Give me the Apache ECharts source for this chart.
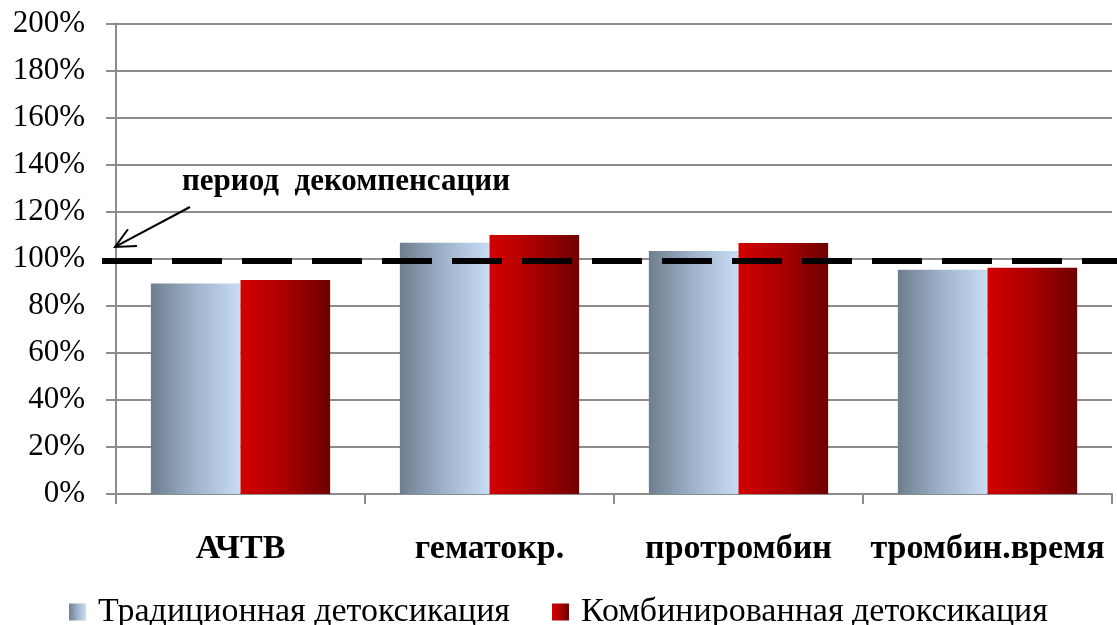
<!DOCTYPE html>
<html>
<head>
<meta charset="utf-8">
<script src="https://cdn.jsdelivr.net/npm/echarts@6/dist/echarts.min.js"></script>
<style>
  html, body { margin: 0; padding: 0; background: #fff; }
  #chart { width: 1117px; height: 625px; }
</style>
</head>
<body>
<div id="chart"></div>
<script>
// Коагулологические показатели, % от нормы
const categories = ['АЧТВ', 'гематокр.', 'протромбин', 'тромбин.время'];
const seriesNames = ['Традиционная детоксикация', 'Комбинированная детоксикация'];
const traditional = [89.5, 106.8, 103.3, 95.3];
const combined = [91.0, 110.1, 106.7, 96.2];
const yTicks = [0, 20, 40, 60, 80, 100, 120, 140, 160, 180, 200];
const thresholdLevel = 99;          // уровень линии «период декомпенсации»
const thresholdLabel = 'период  декомпенсации';

const serif = '"Liberation Serif", "Times New Roman", serif';

const blueGrad = new echarts.graphic.LinearGradient(0, 0, 1, 0, [
  { offset: 0, color: '#6e7e8f' },
  { offset: 0.5, color: '#9fb3cb' },
  { offset: 1, color: '#c8ddf5' }
]);
const redGrad = new echarts.graphic.LinearGradient(0, 0, 1, 0, [
  { offset: 0, color: '#d40000' },
  { offset: 0.5, color: '#a80000' },
  { offset: 1, color: '#6e0000' }
]);

const chart = echarts.init(document.getElementById('chart'), null, { renderer: 'canvas' });

const option = {
  animation: false,
  backgroundColor: '#fff',
  grid: { left: 116, right: 5, top: 23.5, bottom: 131, containLabel: false },
  legend: {
    bottom: -9,
    left: 'center',
    itemWidth: 17,
    itemHeight: 17,
    itemGap: 42,
    icon: 'rect',
    textStyle: { fontFamily: serif, fontSize: 34, color: '#000', padding: [0, 0, 0, 7] },
    data: seriesNames
  },
  xAxis: {
    type: 'category',
    data: categories,
    axisLine: { lineStyle: { color: '#8c8c8c', width: 2 } },
    axisTick: { show: true, length: 10, alignWithLabel: false, lineStyle: { color: '#8c8c8c', width: 2 } },
    axisLabel: {
      margin: 38, fontFamily: serif, fontSize: 34, fontWeight: 'bold', color: '#000',
      interval: 0
    },
    splitLine: { show: false }
  },
  yAxis: {
    type: 'value',
    min: yTicks[0],
    max: yTicks[yTicks.length - 1],
    interval: yTicks[1] - yTicks[0],
    axisLine: { show: true, lineStyle: { color: '#8c8c8c', width: 2 } },
    axisTick: { show: true, inside: false, length: 10, lineStyle: { color: '#8c8c8c', width: 2 } },
    axisLabel: {
      margin: 31, fontFamily: serif, fontSize: 31, color: '#000',
      formatter: v => v + '%'
    },
    splitLine: { show: true, lineStyle: { color: '#8c8c8c', width: 2 } }
  },
  series: [
    {
      name: seriesNames[0],
      type: 'bar',
      data: traditional,
      barGap: '0%',
      barCategoryGap: '28%',
      itemStyle: { color: blueGrad }
    },
    {
      name: seriesNames[1],
      type: 'bar',
      data: combined,
      barGap: '0%',
      barCategoryGap: '28%',
      itemStyle: { color: redGrad }
    }
  ]
};

chart.setOption(option);

// Пунктирная линия порога, подпись и стрелка строятся по шкале оси Y
function drawAnnotation() {
  const yLine = chart.convertToPixel({ yAxisIndex: 0 }, thresholdLevel);
  const y0 = chart.convertToPixel({ yAxisIndex: 0 }, 0);
  const unit = (y0 - chart.convertToPixel({ yAxisIndex: 0 }, 100)) / 100;
  const axisX = chart.getModel().getComponent('grid').coordinateSystem.getRect().x;
  const arrowTip = [axisX - 1, yLine - 6 * unit];
  const arrowTail = [axisX + 74, yLine - 23 * unit];
  chart.setOption({
    graphic: [
      {
        type: 'line',
        shape: { x1: axisX - 14, y1: yLine, x2: 1117, y2: yLine },
        style: { stroke: '#000', lineWidth: 6, lineDash: [50, 20] },
        z: 100
      },
      {
        type: 'line',
        shape: { x1: arrowTail[0], y1: arrowTail[1], x2: arrowTip[0], y2: arrowTip[1] },
        style: { stroke: '#000', lineWidth: 2 },
        z: 100
      },
      {
        type: 'polyline',
        shape: {
          points: (function () {
            const dx = arrowTail[0] - arrowTip[0], dy = arrowTail[1] - arrowTip[1];
            const len = Math.hypot(dx, dy);
            const ux = dx / len, uy = dy / len;
            const head = 22, spread = 0.45;
            const rot = (a) => [
              arrowTip[0] + head * (ux * Math.cos(a) - uy * Math.sin(a)),
              arrowTip[1] + head * (ux * Math.sin(a) + uy * Math.cos(a))
            ];
            return [rot(spread), arrowTip, rot(-spread)];
          })()
        },
        style: { stroke: '#000', lineWidth: 2, fill: null },
        z: 100
      },
      {
        type: 'text',
        x: axisX + 230,
        y: yLine - 33.5 * unit,
        style: {
          text: thresholdLabel,
          font: 'bold 31px ' + serif,
          fill: '#000',
          textAlign: 'center',
          textVerticalAlign: 'middle'
        },
        z: 100
      }
    ]
  });
}
drawAnnotation();
</script>
</body>
</html>
